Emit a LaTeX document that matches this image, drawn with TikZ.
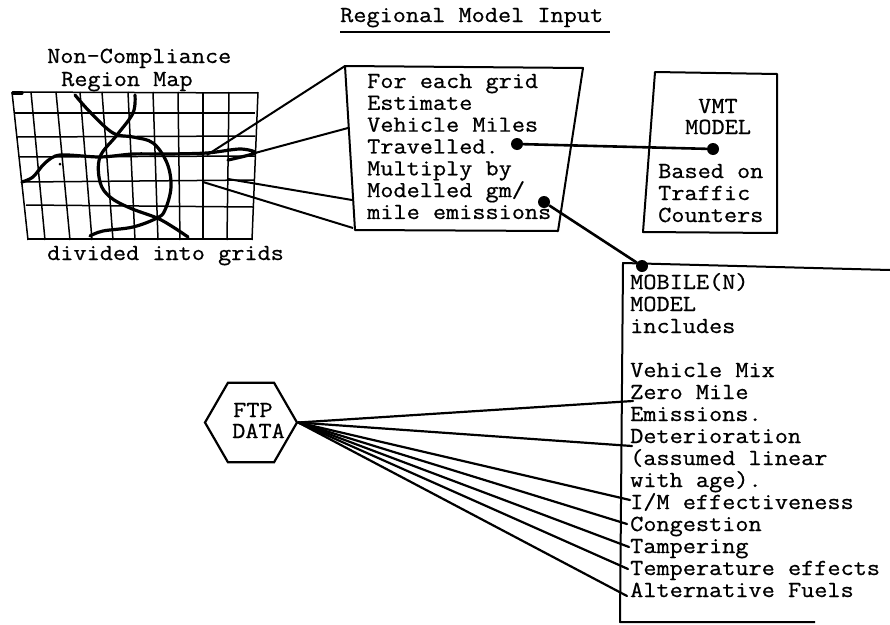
\documentclass[tikz,border=0pt]{standalone}
\usepackage{fontspec}
\usetikzlibrary{shapes.geometric}
\newfontfamily\typerfont{Latin Modern Mono}[FakeStretch=1.11,FakeBold=0.7]
\tikzset{
	typed/.style={anchor=base west,inner sep=0pt,font=\fontsize{23}{23}\selectfont\typerfont},
	gridline/.style={line width=1.5pt},
	road/.style={line width=3.2pt,line cap=round,line join=round},
	boxline/.style={line width=2pt,line join=round},
	ray/.style={line width=2.2pt,line cap=round},
	link/.style={line width=2.6pt},
	knob/.style={circle,fill=black,inner sep=0pt,minimum size=12pt}
}
\begin{document}
\begin{tikzpicture}[x=1pt,y=-1pt]
	\useasboundingbox (0,0) rectangle (890,624);
	% title
	\node[typed] (title) at (340,22) {Regional Model Input};
	\draw[line width=1.5pt] (340,32) -- (610,32);
	% map labels
	\node[typed] (maptop) at (47,63) {Non-Compliance};
	\node[typed] (mapname) at (61,86) {Region Map};
	\node[typed] (mapnote) at (47,260) {divided into grids};
	% map grid
	\foreach \xa/\xb in {12/28,31/45,56/70,80/92,102/113,128/135,153/158,178/180,203/203,229/227,258/252}
		\draw[gridline] (\xa,92) -- (\xb,240);
	\foreach \xa/\xb/\ya/\yb in {12/258/92/93,14/255/113/113,17/255/137/136,19/255/157/156,24/254/182/180,26/253/205/207,28/252/239/239}
		\draw[gridline] (\xa,\ya) -- (\xb,\yb);
	% roads
	\draw[road] (13,93) -- (22,93);
	\draw[road] plot[smooth,tension=.5] coordinates {(22,182) (33,177) (45,163) (60,155) (100,157) (133,154) (167,154) (207,153) (240,149) (255,153) (228,160)};
	\draw[road] plot[smooth,tension=.6] coordinates {(75,95) (90,112) (113,133) (133,137) (153,143) (167,163) (171,187) (165,210) (157,218) (133,227) (103,231) (90,236)};
	\draw[road] plot[smooth,tension=.6] coordinates {(135,95) (133,113) (117,135) (100,157) (100,182) (110,197) (130,208) (157,218) (173,227) (188,237)};
	\fill (60,164) circle (1.5);
	% grid box
	\coordinate (gridtl) at (345,66);
	\coordinate (gridtr) at (583,68);
	\coordinate (gridbr) at (558,231);
	\coordinate (gridbl) at (355,230);
	\draw[boxline] (gridtl) -- (gridtr) -- (gridbr) -- (gridbl) -- cycle;
	\foreach \txt [count=\i from 0] in {For each grid,Estimate,Vehicle Miles,Travelled.,Multiply by,Modelled gm/,mile emissions}
		\node[typed] (grid\i) at (367,{88+\i*21.83}) {\txt};
	% map to grid box
	\coordinate (mapa) at (207,155);
	\coordinate (mapb) at (255,153);
	\coordinate (mapc) at (228,179);
	\coordinate (mapd) at (203,182);
	\coordinate (gridb) at (348,128);
	\coordinate (gridc) at (352,200);
	\coordinate (gridd) at (353,228);
	\draw[boxline] (mapa) -- (gridtl);
	\draw[boxline] (mapb) -- (gridb);
	\draw[boxline] (mapc) -- (gridc);
	\draw[boxline] (mapd) -- (gridd);
	% vmt box
	\coordinate (vmttl) at (655,72);
	\coordinate (vmttr) at (777,74);
	\coordinate (vmtbr) at (777,233);
	\coordinate (vmtbl) at (643,232);
	\draw[boxline] (vmttl) -- (vmttr) -- (vmtbr) -- (vmtbl) -- cycle;
	\node[typed] (vmta) at (698,113) {VMT};
	\node[typed] (vmtb) at (685,134) {MODEL};
	\node[typed] (vmtc) at (658,178) {Based on};
	\node[typed] (vmtd) at (658,200) {Traffic};
	\node[typed] (vmte) at (658,222) {Counters};
	% mobile box
	\coordinate (mobtl) at (623,263);
	\coordinate (mobtr) at (890,270);
	\coordinate (mobbl) at (620,622);
	\coordinate (mobbr) at (815,622);
	\draw[boxline] (mobtr) -- (mobtl) -- (mobbl) -- (mobbr);
	\foreach \txt [count=\i from 0] in {MOBILE(N),MODEL,includes}
		\node[typed] (moba\i) at (630,{289+\i*22}) {\txt};
	\foreach \txt [count=\i from 0] in {Vehicle Mix,Zero Mile,Emissions.,Deterioration,{(assumed linear},{with age).},I/M effectiveness,Congestion,Tampering,Temperature effects,Alternative Fuels}
		\node[typed] (mobb\i) at (630,{377+\i*22}) {\txt};
	% links between boxes
	\node[knob] (traveldot) at (517,144) {};
	\node[knob] (vmtdot) at (713,149) {};
	\node[knob] (emisdot) at (544,202) {};
	\node[knob] (mobdot) at (642,266) {};
	\draw[link] (traveldot) -- (vmtdot);
	\draw[link] (emisdot) -- (mobdot);
	% ftp data
	\node[draw,line width=2.2pt,regular polygon,regular polygon sides=6,minimum size=92pt,inner sep=0pt] (ftp) at (251,422.5) {};
	\node[typed] (ftpa) at (233,417) {FTP};
	\node[typed] (ftpb) at (232,438) {DATA};
	\foreach \xe/\ye [count=\i] in {633/401,632/446,630/500,627/524,629/547,628/569,627/596}{
		\coordinate (fan\i) at (\xe,\ye);
		\draw[ray] (ftp.east) -- (fan\i);
	}
\end{tikzpicture}
\end{document}
